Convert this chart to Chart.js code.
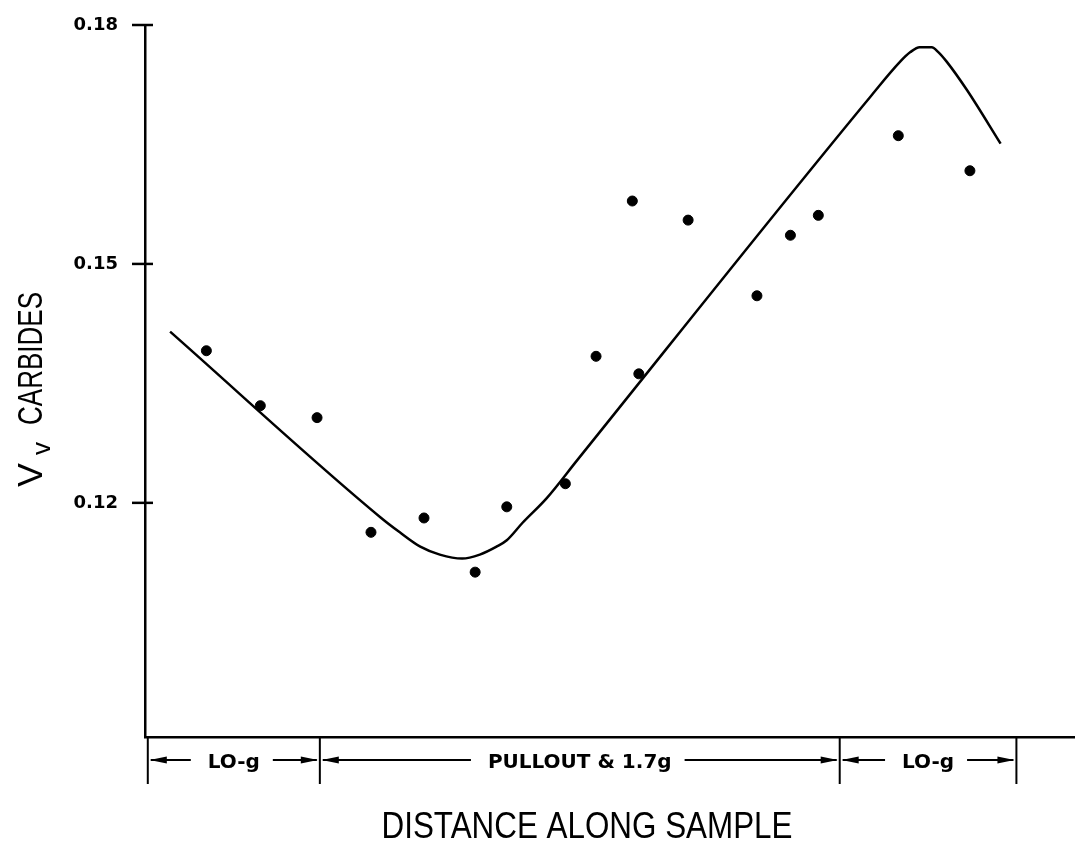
<!DOCTYPE html>
<html lang="en">
<head>
    <meta charset="UTF-8">
    <title>Vv Carbides vs Distance Along Sample</title>
    <script src="https://cdn.jsdelivr.net/npm/chart.js"></script>
    <style>
        body { margin: 0; background: #fff; }
        canvas { display: block; }
    </style>
</head>
<body>
    <canvas id="vvChart" width="1075" height="846"></canvas>
    <script>
        // measured points (distance in arbitrary units 0-100)
        const pointX = [6.6, 12.4, 18.5, 24.3, 30.0, 35.5, 38.9, 45.2, 48.5, 52.4, 53.1, 58.4, 65.8, 69.4, 72.4, 81.0, 88.7];
        const pointY = [0.1391, 0.1322, 0.1307, 0.1163, 0.1181, 0.1113, 0.1195, 0.1224, 0.1384, 0.1579, 0.1362, 0.1555, 0.1460, 0.1536, 0.1561, 0.1661, 0.1617];
        // fitted curve
        const curveX = [2.7, 25.3, 27.4, 29.6, 31.7, 34.1, 36.0, 37.8, 38.9, 40.6, 43.2, 46.5, 78.0, 81.2, 82.3, 83.3, 84.6, 85.3, 86.2, 88.4, 92.0];
        const curveY = [0.1415, 0.1182, 0.1163, 0.1145, 0.1135, 0.1130, 0.1135, 0.1145, 0.1153, 0.1175, 0.1206, 0.1254, 0.1710, 0.1754, 0.1766, 0.1772, 0.1772, 0.1766, 0.1754, 0.1718, 0.1651];
        const yTicks = [0.12, 0.15, 0.18];
        // regions along the sample
        const zoneEdges = [0.3, 18.8, 74.7, 93.7];
        const zoneLabels = ['LO-g', 'PULLOUT & 1.7g', 'LO-g'];

        const fitText = (ctx, text, x, y, width) => {
            const w = ctx.measureText(text).width;
            ctx.save();
            ctx.translate(x, y);
            ctx.scale(width / w, 1);
            ctx.fillText(text, 0, 0);
            ctx.restore();
        };

        const arrowHead = (ctx, tipX, y, dir) => {
            ctx.beginPath();
            ctx.moveTo(tipX, y);
            ctx.lineTo(tipX - dir * 17, y - 3.5);
            ctx.lineTo(tipX - dir * 17, y + 3.5);
            ctx.closePath();
            ctx.fill();
        };

        const decor = {
            id: 'decor',
            afterDraw(chart) {
                const ctx = chart.ctx;
                const xs = chart.scales.x, ys = chart.scales.y;
                const area = chart.chartArea;
                ctx.save();
                ctx.strokeStyle = '#000';
                ctx.fillStyle = '#000';

                // tick crosses on the y axis
                ctx.lineWidth = 2.5;
                yTicks.forEach(v => {
                    const py = ys.getPixelForValue(v);
                    ctx.beginPath();
                    ctx.moveTo(area.left - 13, py);
                    ctx.lineTo(area.left + 8, py);
                    ctx.stroke();
                });

                // region brackets under the axis
                const lineY = 760;
                ctx.lineWidth = 2;
                zoneEdges.forEach(e => {
                    const px = xs.getPixelForValue(e);
                    ctx.beginPath();
                    ctx.moveTo(px, area.bottom);
                    ctx.lineTo(px, 784);
                    ctx.stroke();
                });
                ctx.font = 'bold 20px "DejaVu Sans"';
                ctx.textBaseline = 'alphabetic';
                ctx.textAlign = 'left';
                zoneLabels.forEach((lab, i) => {
                    const a = xs.getPixelForValue(zoneEdges[i]);
                    const b = xs.getPixelForValue(zoneEdges[i + 1]);
                    const w = ctx.measureText(lab).width;
                    const c = (a + b) / 2;
                    const tl = c - w / 2, tr = c + w / 2;
                    ctx.fillText(lab, tl, 768);
                    ctx.beginPath();
                    ctx.moveTo(a + 3, lineY);
                    ctx.lineTo(tl - 17, lineY);
                    ctx.moveTo(tr + 13, lineY);
                    ctx.lineTo(b - 3, lineY);
                    ctx.stroke();
                    arrowHead(ctx, a + 2, lineY, -1);
                    arrowHead(ctx, b - 2, lineY, 1);
                });

                // x title
                ctx.font = '36px "Liberation Sans"';
                ctx.textAlign = 'center';
                fitText(ctx, 'DISTANCE ALONG SAMPLE', 587, 838, 411);

                // y title with subscript
                ctx.save();
                ctx.translate(42, 487);
                ctx.rotate(-Math.PI / 2);
                ctx.textAlign = 'left';
                ctx.font = '35px "Liberation Sans"';
                fitText(ctx, 'V', 0, 0, 24);
                ctx.font = '25px "Liberation Sans"';
                fitText(ctx, 'v', 32, 8, 13);
                ctx.font = '35px "Liberation Sans"';
                fitText(ctx, 'CARBIDES', 62, 0, 133);
                ctx.restore();

                ctx.restore();
            }
        };

        const chart = new Chart(document.getElementById('vvChart'), {
            type: 'scatter',
            data: {
                datasets: [{
                    type: 'line',
                    data: curveX.map((x, i) => ({ x: x, y: curveY[i] })),
                    borderColor: '#000',
                    borderWidth: 2.5,
                    pointRadius: 0,
                    cubicInterpolationMode: 'monotone',
                    fill: false
                }, {
                    data: pointX.map((x, i) => ({ x: x, y: pointY[i] })),
                    backgroundColor: '#000',
                    borderColor: '#000',
                    pointRadius: 5,
                    showLine: false
                }]
            },
            options: {
                responsive: false,
                animation: false,
                layout: { autoPadding: false, padding: { top: 25, right: 0, bottom: 109, left: 0 } },
                plugins: { legend: { display: false }, tooltip: { enabled: false } },
                scales: {
                    x: {
                        type: 'linear', min: 0, max: 100,
                        grid: { display: false },
                        ticks: { display: false },
                        border: { color: '#000', width: 2.5 },
                        afterFit: s => {
                            s.height = 0;
                            s.paddingLeft = 0; s.paddingRight = 0;
                        }
                    },
                    y: {
                        min: 0.0906, max: 0.18,
                        afterBuildTicks: s => { s.ticks = yTicks.map(v => ({ value: v })); },
                        grid: { display: false },
                        border: { color: '#000', width: 2.5 },
                        ticks: {
                            color: '#000',
                            padding: 19,
                            font: { family: 'DejaVu Sans', size: 18, weight: 'bold' },
                            callback: v => v.toFixed(2)
                        },
                        afterFit: s => {
                            s.width = 145;
                            s.paddingTop = 0; s.paddingBottom = 0;
                        }
                    }
                }
            },
            plugins: [decor]
        });
    </script>
</body>
</html>
